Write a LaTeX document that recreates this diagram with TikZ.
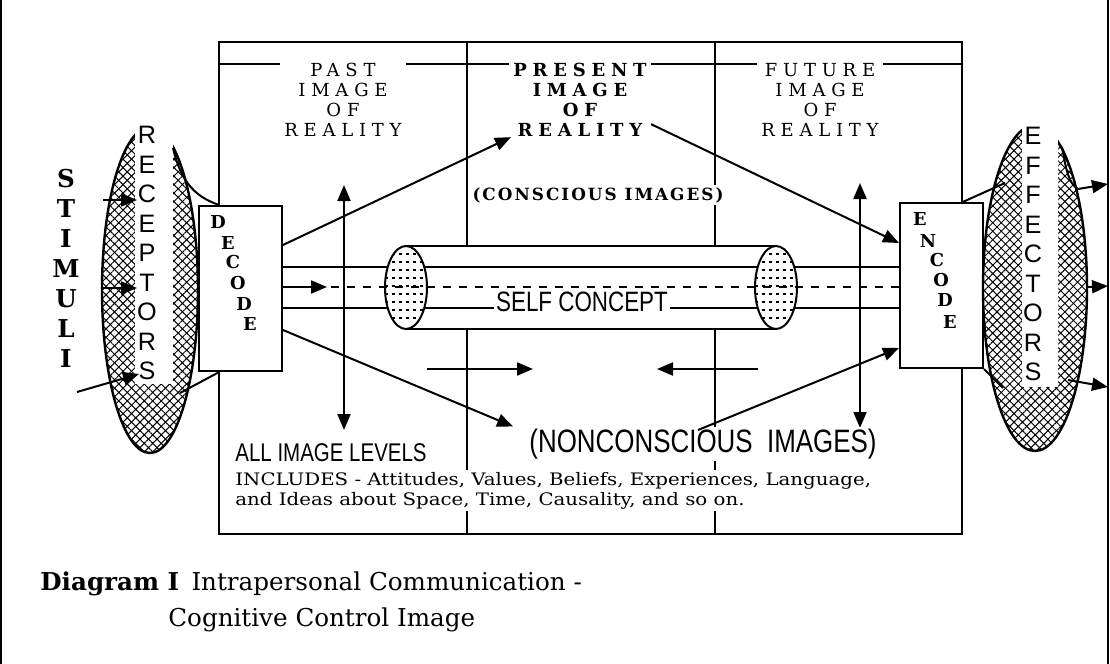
\documentclass[tikz,border=0pt]{standalone}
\usepackage{fontspec}
\setmainfont{DejaVu Serif}
\newfontfamily\headfont[LetterSpace=32]{DejaVu Serif}
\newfontfamily\midfont[LetterSpace=12]{DejaVu Serif}
\newfontfamily\widefont[FakeStretch=1.15]{DejaVu Serif}
\newfontfamily\condfont[FakeStretch=0.8]{Liberation Sans}
\newfontfamily\plainsans{Liberation Sans}
\usetikzlibrary{arrows.meta,positioning,calc,patterns.meta}

\begin{document}
\begin{tikzpicture}[
    x=0.5pt, y=-0.5pt,
    >={Triangle[length=8pt,width=6.5pt]},
    thin line/.style={line width=0.7pt},
    thick line/.style={line width=1pt},
    arrowline/.style={->, line width=1pt},
    head/.style={fill=white, inner sep=2pt, align=center, font=\headfont\fontsize{9}{10}\selectfont},
    codebox/.style={draw, line width=1pt, fill=white, minimum width=41.5pt, minimum height=82.5pt, inner sep=0pt},
    codeletter/.style={font=\bfseries\fontsize{8.9}{9}\selectfont, inner sep=0pt},
    hatched/.style={postaction={pattern={Lines[angle=45,distance=3pt,line width=0.5pt]}},
                    postaction={pattern={Lines[angle=-45,distance=3pt,line width=0.5pt]}}},
]
\useasboundingbox (0,0) rectangle (1110,664);

% page edges
\draw[thin line] (1,0) -- (1,664);
\draw[thin line] (1108,0) -- (1108,664);

% main frame with the three time columns
\draw[thick line] (219,42) rectangle (962,534);
\draw[thin line] (219,64) -- (962,64);
\draw[thin line] (467,42) -- (467,534);
\draw[thin line] (715,42) -- (715,534);

\node[head, anchor=north] (past) at (343,59) {PAST\\IMAGE\\OF\\REALITY};
\node[head, anchor=north, font=\headfont\bfseries\fontsize{9}{10}\selectfont] (present) at (580,59) {PRESENT\\IMAGE\\OF\\REALITY};
\node[head, anchor=north] (future) at (820,59) {FUTURE\\IMAGE\\OF\\REALITY};

\node[fill=white, inner sep=1pt, font=\midfont\bfseries\fontsize{8.4}{10}\selectfont] (conscious) at (598,195) {(CONSCIOUS IMAGES)};

% up/down between levels
\draw[thick line, <->] (344,185) -- (344,430);
\draw[thick line, <->] (860,183) -- (860,428);

% decode / encode boxes
\node[codebox] (decode) at (240.5,288.5) {};
\node[codebox] (encode) at (941.5,285.5) {};

% self concept cylinder
\fill[white] (406,246) rectangle (776,329);
\draw[thick line] (406,246) -- (776,246) (406,329) -- (776,329);
\draw[thick line] (decode.east |- 0,267) -- (encode.west |- 0,267);
\draw[thick line] (decode.east |- 0,308) -- (encode.west |- 0,308);
\foreach \cx in {406,776}{
    \fill[white] (\cx,287.5) ellipse [x radius=21, y radius=41.5];
    \begin{scope}
        \clip (\cx,287.5) ellipse [x radius=21, y radius=41.5];
        \foreach \yy in {254,262,...,322}
            \draw[line width=0.8pt, dash pattern=on 1.5pt off 2pt] (\cx-21,\yy) -- (\cx+21,\yy);
    \end{scope}
    \draw[thick line] (\cx,287.5) ellipse [x radius=21, y radius=41.5];
}
\node[fill=white, inner sep=1pt, font=\condfont\fontsize{14}{14}\selectfont] (selfc) at (582,302) {SELF CONCEPT};
\draw[thick line, dash pattern=on 4pt off 4pt] (decode.east |- 0,287) -- (encode.west |- 0,287);
\draw[arrowline] (decode.east |- 0,287) -- (327,287);

% flow between past and future
\draw[arrowline] (427,369) -- (533,369);
\draw[arrowline] (758,369) -- (657,369);

% lower texts
\node[fill=white, inner sep=1pt, font=\condfont\fontsize{16.2}{17}\selectfont] (noncon) at (703,444) {(NONCONSCIOUS\ \ IMAGES)};
\node[anchor=west, inner sep=0pt, font=\condfont\fontsize{12.8}{13}\selectfont] (alllevels) at (235,453) {ALL IMAGE LEVELS};
\node[anchor=north west, fill=white, inner sep=1pt, align=left, font=\widefont\fontsize{8.6}{10}\selectfont] (includes) at (233,470)
    {INCLUDES - Attitudes, Values, Beliefs, Experiences, Language,\\and Ideas about Space, Time, Causality, and so on.};

% diagonal arrows
\coordinate (nstart) at (698,430);
\draw[arrowline] (decode.east |- 0,245) -- ($(present.south west)+(2,-4)$);
\draw[arrowline] ($(present.south east)+(0,-17)$) -- (encode.west |- 0,243);
\draw[arrowline] (decode.east |- 0,330) -- ($(noncon.north west)+(-14,0)$);
\draw[arrowline] (nstart) -- (encode.west |- 0,348);

% letters in the boxes
\foreach \ch/\px/\py [count=\i] in {D/218/222, E/228/243, C/233/262, O/238/283, D/244/304, E/250/324}
    \node[codeletter] (dec\i) at (\px,\py) {\ch};
\foreach \ch/\px/\py [count=\i] in {E/920/219, N/928/241, C/937/260, O/941/280, D/945/300, E/950/322}
    \node[codeletter] (enc\i) at (\px,\py) {\ch};

% receptors
\path[hatched] (150,290) ellipse [x radius=48, y radius=163];
\draw[line width=1.2pt] (150,290) ellipse [x radius=48, y radius=163];
\fill[white] (135,118) rectangle (173,384);
\draw[thick line] (173,148) .. controls (180,178) and (192,196) .. ($(decode.north west)!0.25!(decode.north east)$);
\draw[thick line] ($(decode.south west)!0.25!(decode.south east)$) -- (180,393);
\node[align=center, inner sep=0pt, font=\plainsans\fontsize{12.6}{14.75}\selectfont] (receptors) at (147,253) {R\\E\\C\\E\\P\\T\\O\\R\\S};
\node[align=center, inner sep=0pt, font=\bfseries\fontsize{12.3}{15}\selectfont] (stimuli) at (66,268) {S\\T\\I\\M\\U\\L\\I};
\coordinate (s1) at (103,200);
\coordinate (s2) at (103,288);
\coordinate (s3) at (77,392);
\draw[arrowline] (s1) -- (137,200);
\draw[arrowline] (s2) -- (137,288);
\draw[arrowline] (s3) -- (139,374);

% effectors
\path[hatched] (1035,288) ellipse [x radius=52, y radius=163];
\draw[line width=1.2pt] (1035,288) ellipse [x radius=52, y radius=163];
\fill[white] (1022,118) rectangle (1058,387);
\draw[thick line] ($(encode.north west)!0.75!(encode.north east)$) -- (1005,183);
\draw[thick line] (encode.south east) -- (1003,388);
\draw[thick line] (1062,147) .. controls (1066,170) and (1069,184) .. (1078,189);
\node[align=center, inner sep=0pt, font=\plainsans\fontsize{12.6}{14.75}\selectfont] (effectors) at (1033,254) {E\\F\\F\\E\\C\\T\\O\\R\\S};
\coordinate (e1) at (1108,184);
\coordinate (e2) at (1108,286);
\coordinate (e3) at (1108,387);
\draw[arrowline] (1078,189) -- (e1);
\draw[arrowline] (1087,287) -- (e2);
\draw[arrowline] (1068,380) -- (e3);

% caption
\node[anchor=base west, inner sep=0pt, font=\fontsize{12.3}{15}\selectfont] (capline1) at (40,590)
    {\textbf{Diagram I}\enspace Intrapersonal Communication -};
\node[anchor=base west, inner sep=0pt, font=\fontsize{12.3}{15}\selectfont] (capline2) at (168,626)
    {Cognitive Control Image};

\end{tikzpicture}
\end{document}
